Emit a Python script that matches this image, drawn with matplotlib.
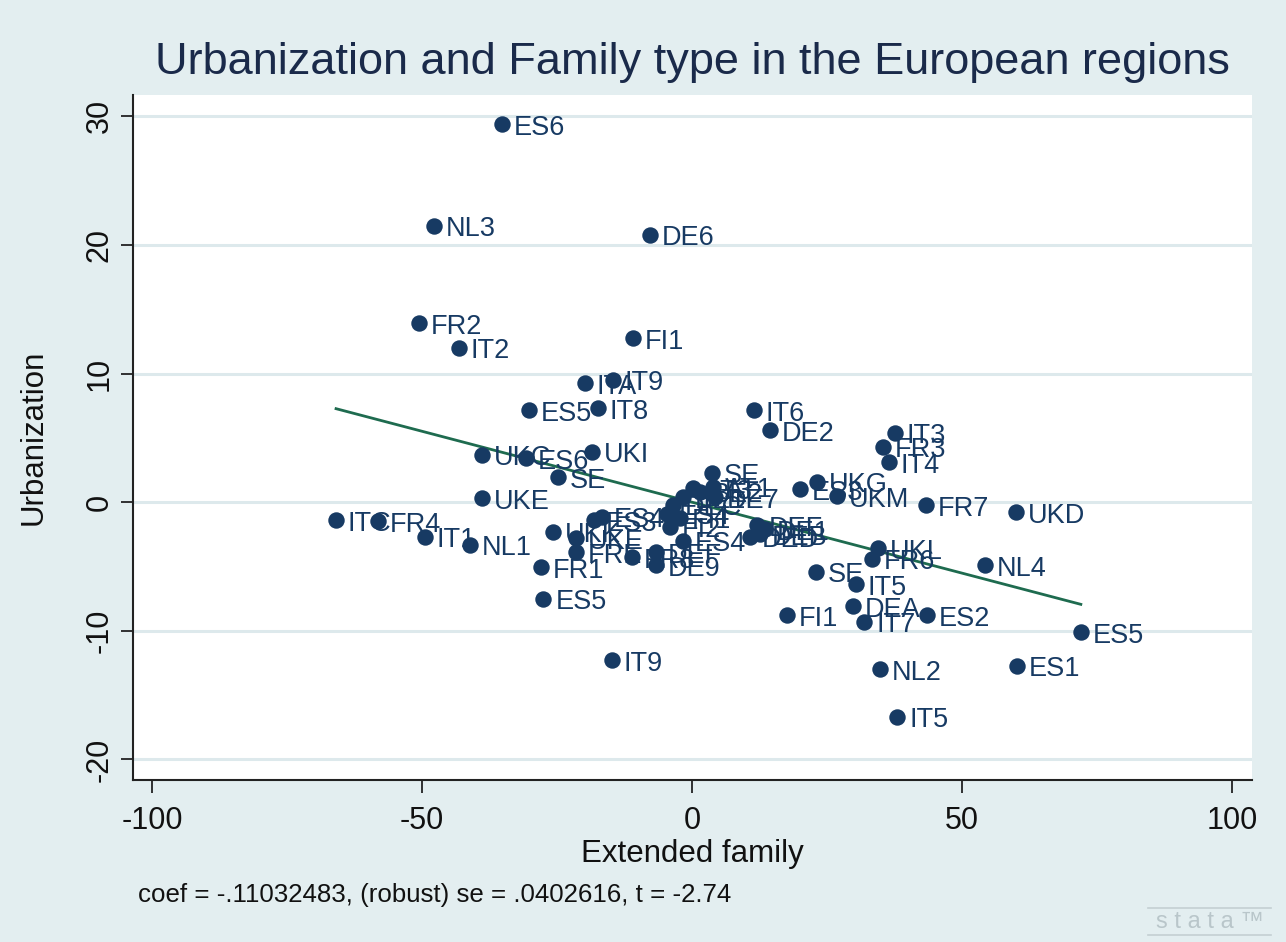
import matplotlib
matplotlib.use("Agg")
import matplotlib.pyplot as plt
from matplotlib.lines import Line2D

plt.rcParams.update({
    "font.family": "Liberation Sans",
    "axes.unicode_minus": False,
})

# region codes, extended family (x) and urbanization (y) residuals
labels = ["ES6", "NL3", "DE6", "FR2", "IT2", "FI1", "ITA", "IT9", "ES5", "IT8",
          "IT6", "DE2", "IT3", "FR3", "IT4", "UKC", "ES6", "UKI", "SE", "UKE",
          "ITC", "FR4", "IT1", "NL1", "UKK", "UKE", "FRE", "FR1", "ES5", "ES3",
          "ES4", "FR8", "DEF", "DE9", "SE", "AT3", "BE2", "AT1", "DE7", "BE1",
          "DEC", "ES4", "FI1", "FI2", "ES4", "DED", "DEF", "DEB", "DE1", "UKG",
          "ES3", "UKM", "FR7", "UKD", "UKL", "FR6", "SE", "IT5", "NL4", "FI1",
          "DEA", "IT7", "ES2", "ES5", "ES1", "NL2", "IT5", "IT9"]
ext_family = [-35.2, -47.8, -7.8, -50.6, -43.1, -10.9, -19.8, -14.6, -30.2, -17.4,
              11.5, 14.4, 37.6, 35.4, 36.5, -38.9, -30.7, -18.5, -24.8, -38.9,
              -65.9, -58.1, -49.4, -41.1, -25.7, -21.5, -21.5, -28.0, -27.5, -18.1,
              -16.7, -11.1, -6.7, -6.7, 3.7, 0.2, 1.5, 3.9, 4.3, -1.7,
              -3.5, -4.6, -2.2, -4.1, -1.7, 10.7, 12.1, 12.6, 13.6, 23.1,
              20.0, 26.9, 43.3, 60.0, 34.4, 33.3, 23.0, 30.4, 54.3, 17.6,
              29.8, 31.9, 43.5, 72.0, 60.2, 34.8, 38.0, -14.8]
urbanization = [29.4, 21.5, 20.8, 13.9, 12.0, 12.75, 9.25, 9.5, 7.15, 7.3,
                7.15, 5.6, 5.4, 4.3, 3.1, 3.7, 3.4, 3.9, 1.95, 0.3,
                -1.4, -1.5, -2.7, -3.3, -2.3, -2.8, -3.9, -5.05, -7.5, -1.4,
                -1.15, -4.3, -3.9, -4.9, 2.3, 1.1, 0.8, 1.2, 0.4, 0.4,
                -0.2, -0.9, -1.2, -1.9, -3.0, -2.7, -1.8, -2.5, -2.1, 1.6,
                1.0, 0.45, -0.25, -0.8, -3.6, -4.4, -5.4, -6.4, -4.9, -8.8,
                -8.1, -9.3, -8.8, -10.1, -12.7, -13.0, -16.7, -12.3]

COEF = -0.11032483
SE_ROBUST = 0.0402616
T_STAT = -2.74

xticks = [-100, -50, 0, 50, 100]
yticks = [-20, -10, 0, 10, 20, 30]

BG = "#e3eef0"
NAVY = "#173a63"
GRID = "#dde9ec"

fig = plt.figure(figsize=(12.86, 9.42), dpi=100, facecolor=BG)
ax = fig.add_axes([0.1034, 0.172, 0.8702, 0.727])
ax.set_facecolor("white")

for yv in yticks:
    ax.axhline(yv, color=GRID, lw=2.2, zorder=0)

ax.scatter(ext_family, urbanization, s=140, color=NAVY, zorder=3, linewidths=0)
for lbl, xv, yv in zip(labels, ext_family, urbanization):
    ax.annotate(lbl, (xv, yv), xytext=(8.5, -2.5), textcoords="offset points",
                ha="left", va="center", fontsize=19.5, color=NAVY, zorder=4)

# fitted line from the regression coefficient
x0, x1 = min(ext_family), max(ext_family)
ax.plot([x0, x1], [COEF * x0, COEF * x1], color="#1e6b4f", lw=2, zorder=2)

ax.set_xlim(-103.5, 103.7)
ax.set_ylim(-21.6, 31.65)
ax.set_xticks(xticks)
ax.set_yticks(yticks)
ax.tick_params(axis="both", length=9, width=1.3, color="#222222",
               labelsize=22, labelcolor="#111111")
ax.tick_params(axis="x", pad=10)
ax.tick_params(axis="y", pad=4)
for t in ax.get_yticklabels():
    t.set_rotation(90)
    t.set_va("center")
for s in ["top", "right"]:
    ax.spines[s].set_visible(False)
for s in ["left", "bottom"]:
    ax.spines[s].set_linewidth(1.5)
    ax.spines[s].set_color("#222222")

ax.set_xlabel("Extended family", fontsize=22.5, color="#111111", labelpad=2)
ax.set_ylabel("Urbanization", fontsize=22.5, color="#111111", labelpad=26)

fig.text(0.5385, 0.934, "Urbanization and Family type in the European regions",
         ha="center", va="center", fontsize=32.5, color="#1a2a4a")

fig.text(0.107, 0.05, f"coef = {COEF:.8f}, (robust) se = {SE_ROBUST:.7f}, t = {T_STAT:.2f}"
         .replace("-0.", "-.").replace("= 0.", "= ."),
         ha="left", va="center", fontsize=18.6, color="#111111")

# stata logo
fig.text(0.941, 0.0215, "s t a t a \u2122", ha="center", va="center", fontsize=17,
         color="#b9c6ca")
fig.add_artist(Line2D([0.893, 0.988], [0.036, 0.036], color="#c4cfd2", lw=1.2))
fig.add_artist(Line2D([0.893, 0.988], [0.007, 0.007], color="#c4cfd2", lw=1.2))

fig.savefig("out.png", dpi=100, facecolor=BG)
